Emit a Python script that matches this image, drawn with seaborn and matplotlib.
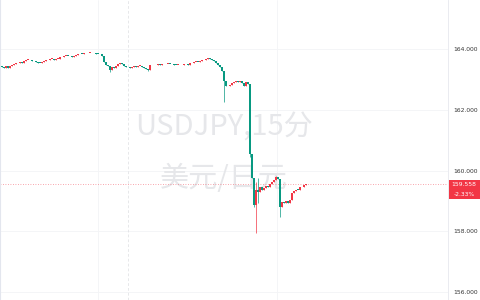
import numpy as np
import pandas as pd
import matplotlib
matplotlib.use("Agg")
import matplotlib.pyplot as plt
from matplotlib.patches import Rectangle
import seaborn as sns

# ---- data ----
first_open = 163.45
closes = [
    163.42, 163.38, 163.44, 163.40, 163.46, 163.50, 163.53, 163.55, 163.54, 163.58,
    163.57, 163.61, 163.65, 163.66, 163.64, 163.62, 163.61, 163.59, 163.57, 163.55,
    163.58, 163.62, 163.64, 163.67, 163.68, 163.69, 163.67, 163.68, 163.70, 163.74,
    163.76, 163.78, 163.80, 163.79, 163.77, 163.76, 163.78, 163.82, 163.84, 163.86,
    163.85, 163.88, 163.87, 163.88, 163.89, 163.87, 163.88, 163.86, 163.85, 163.84,
    163.80, 163.58, 163.50, 163.44, 163.34, 163.42, 163.40, 163.47, 163.51, 163.55,
    163.53, 163.44, 163.41, 163.42, 163.40, 163.42, 163.44, 163.43, 163.45, 163.46,
    163.43, 163.40, 163.37, 163.34, 163.48, 163.50, 163.48, 163.50, 163.51, 163.50,
    163.52, 163.51, 163.52, 163.53, 163.52, 163.51, 163.50, 163.49, 163.49, 163.48,
    163.50, 163.52, 163.51, 163.50, 163.54, 163.57, 163.58, 163.60, 163.59, 163.62,
    163.64, 163.66, 163.70, 163.72, 163.69, 163.66, 163.62, 163.56, 163.50, 163.43,
    163.28, 162.97, 162.78, 162.80, 162.84, 162.88, 162.92, 162.97, 162.93, 162.95,
    162.90, 162.78, 162.93, 162.86, 160.55, 159.75, 158.87, 159.35, 159.30, 159.45,
    159.38, 159.42, 159.50, 159.47, 159.55, 159.62, 159.68, 159.80, 159.72, 158.82,
    158.97, 158.92, 159.00, 158.95, 159.05, 159.28, 159.32, 159.38, 159.37, 159.45,
    159.48, 159.52, 159.558,
]
wick_low_idx = [54, 73, 111, 124, 126, 127, 128, 139]
wick_low_val = [163.27, 163.28, 162.28, 160.45, 158.80, 157.96, 158.95, 158.48]
wick_high_idx = [127, 128, 137]
wick_high_val = [159.62, 159.75, 159.84]

y_ticks = [156, 158, 160, 162, 164]
last_price_label = "159.558"
change_label = "-2.33%"
title_line1 = "USDJPY,15分"
title_line2 = "美元/日元"

# ---- build table ----
opens = [first_open] + closes[:-1]
df = pd.DataFrame({"i": np.arange(len(closes)), "open": opens, "close": closes})
df["high"] = df[["open", "close"]].max(axis=1)
df["low"] = df[["open", "close"]].min(axis=1)
for k, v in zip(wick_low_idx, wick_low_val):
    df.loc[k, "low"] = min(df.loc[k, "low"], v)
for k, v in zip(wick_high_idx, wick_high_val):
    df.loc[k, "high"] = max(df.loc[k, "high"], v)
UP = "#F23645"
DOWN = "#089981"
df["color"] = np.where(df["close"] >= df["open"], UP, DOWN)

# ---- figure ----
sns.set_theme(style="white")
plt.rcParams["font.family"] = ["Noto Sans CJK SC", "DejaVu Sans"]

fig = plt.figure(figsize=(4.8, 3.0), dpi=100)
ax = fig.add_axes([0.0, 0.0, 448 / 480, 1.0])
ax.set_facecolor("white")
ax.set_xlim(-1, 223)
ax.set_ylim(155.736, 165.633)

# grid
for yv in y_ticks:
    ax.axhline(yv, color="#F3F4F6", lw=0.6, zorder=0)
ax.axvline(48, color="#F3F4F6", lw=0.6, zorder=0)
ax.axvline(137.5, color="#F3F4F6", lw=0.6, zorder=0)
ax.axvline(63, color="#DDDEE2", lw=0.5, ls=(0, (4, 3)), zorder=0)

# watermark
ax.text(0.5, 0.575, title_line1, transform=ax.transAxes, ha="center", va="center",
        fontsize=21, color="#E6E7EA", zorder=1)
ax.text(0.5, 0.403, title_line2, transform=ax.transAxes, ha="center", va="center",
        fontsize=21, color="#E6E7EA", zorder=1)

# candles
ax.vlines(df["i"], df["low"], df["high"], colors=df["color"], lw=0.5, zorder=3)
body_h = (df["close"] - df["open"]).abs().clip(lower=0.025)
ax.bar(df["i"], body_h, bottom=df[["open", "close"]].min(axis=1), width=0.85,
       color=df["color"], linewidth=0, zorder=4)

# last price line
last = closes[-1]
ax.axhline(last, color=UP, lw=0.6, ls=(0, (1, 2)), alpha=0.6, zorder=2)

# axes styling
ax.yaxis.tick_right()
ax.set_yticks(y_ticks)
ax.set_yticklabels([f"{v:.3f}" for v in y_ticks], fontsize=4.3, color="#333333",
                   family="DejaVu Sans")
ax.tick_params(axis="y", length=0, pad=3.5)
ax.set_xticks([])
for s in ["top", "bottom"]:
    ax.spines[s].set_visible(False)
ax.spines["right"].set_color("#E6E8EE")
ax.spines["right"].set_linewidth(0.6)
ax.spines["left"].set_color("#E3E6EE")
ax.spines["left"].set_linewidth(0.8)

# price label box on the axis
fig.patches.append(Rectangle((449 / 480, 1 - 199 / 300), 31 / 480, 19 / 300,
                             transform=fig.transFigure, facecolor=UP,
                             edgecolor="none", zorder=5))
fig.text(464 / 480, 1 - 184.5 / 300, last_price_label, ha="center", va="center",
         fontsize=4.3, color="white", family="DejaVu Sans", zorder=6)
fig.text(464 / 480, 1 - 194 / 300, change_label, ha="center", va="center",
         fontsize=4.3, color="white", family="DejaVu Sans", zorder=6)

fig.savefig("out.png", dpi=100, facecolor="white")
